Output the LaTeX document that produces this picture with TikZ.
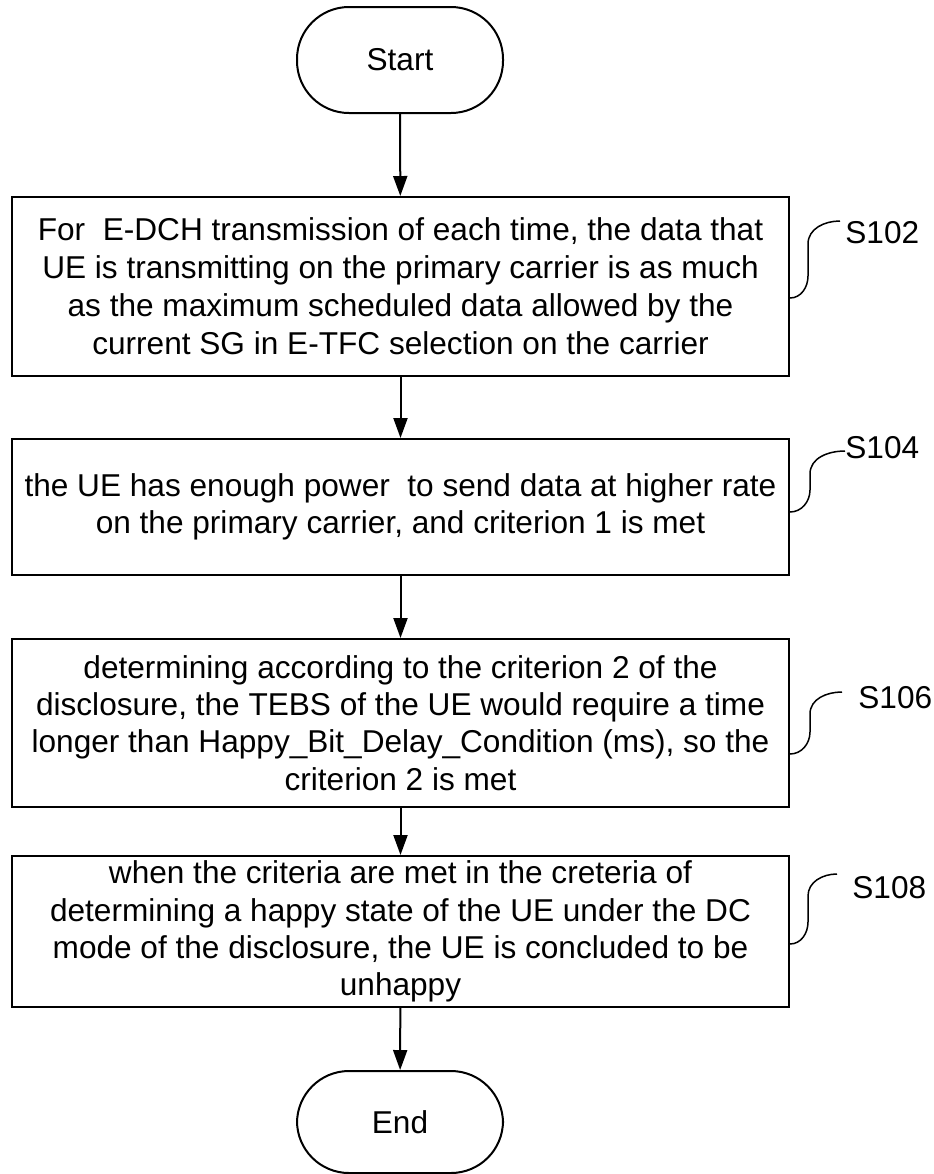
\documentclass[tikz,border=0pt]{standalone}
\usepackage{fontspec}
\setmainfont{Liberation Sans}
\usetikzlibrary{arrows.meta}
\begin{document}
\begin{tikzpicture}[x=0.5pt,y=-0.5pt,
  txt/.style={font=\fontsize{15.8}{18.6}\selectfont},
  box/.style={txt,draw,line width=1pt,minimum width=388.5pt,align=center,inner sep=0pt},
  term/.style={txt,draw,line width=1pt,rounded corners=26pt,minimum width=103pt,minimum height=53pt},
  arr/.style={line width=1pt,-{Triangle[length=10pt,width=7pt]}},
  lead/.style={line width=0.75pt},
  lbl/.style={txt,anchor=base west,inner sep=0pt}]
\useasboundingbox (0,0) rectangle (933,1174);
\node[term] (st) at (400,60) {Start};
\node[box,minimum height=89.5pt,font=\fontsize{15.8}{19}\selectfont] (b1) at (400.5,286.5) {For\ \ E-DCH transmission of each time, the data that\\UE is transmitting on the primary carrier is as much\\as the maximum scheduled data allowed by the\\current SG in E-TFC selection on the carrier};
\node[box,minimum height=68pt] (b2) at (400.5,507) {the UE has enough power\ \ to send data at higher rate\\on the primary carrier, and criterion 1 is met};
\node[box,minimum height=84pt] (b3) at (400.5,723) {determining according to the criterion 2 of the\\disclosure, the TEBS of the UE would require a time\\longer than Happy\_Bit\_Delay\_Condition (ms), so the\\criterion 2 is met};
\node[box,minimum height=75.5pt] (b4) at (400.5,931.5) {when the criteria are met in the creteria of\\determining a happy state of the UE under the DC\\mode of the disclosure, the UE is concluded to be\\unhappy};
\node[term,minimum height=51pt] (en) at (400,1122) {End};
\draw[arr] (st) -- (b1);
\draw[arr] (b1) -- (b2);
\draw[arr] (b2) -- (b3);
\draw[arr] (b3) -- (b4);
\draw[arr] (b4) -- (en);
% step labels
\node[lbl] (s102) at (845,243) {S102};
\node[lbl] (s104) at (845,458) {S104};
\node[lbl] (s106) at (858,708) {S106};
\node[lbl] (s108) at (852,898) {S108};
\coordinate (l1) at (b1.east |- 0,298);
\coordinate (l2) at (b2.east |- 0,512);
\coordinate (l3) at (b3.east |- 0,754);
\coordinate (l4) at (b4.east |- 0,944);
\coordinate (e1) at (840,221);
\coordinate (e2) at (845,451);
\coordinate (e3) at (842,692);
\coordinate (e4) at (837,874);
\draw[lead] (l1) to[out=0,in=-90] (808,276) -- (808,244) to[out=90,in=180] (e1);
\draw[lead] (l2) to[out=0,in=-90] (810,490) -- (810,474) to[out=90,in=180] (e2);
\draw[lead] (l3) to[out=0,in=-90] (810,732) -- (810,714) to[out=90,in=180] (e3);
\draw[lead] (l4) to[out=0,in=-90] (808,922) -- (808,896) to[out=90,in=180] (e4);
\end{tikzpicture}
\end{document}
